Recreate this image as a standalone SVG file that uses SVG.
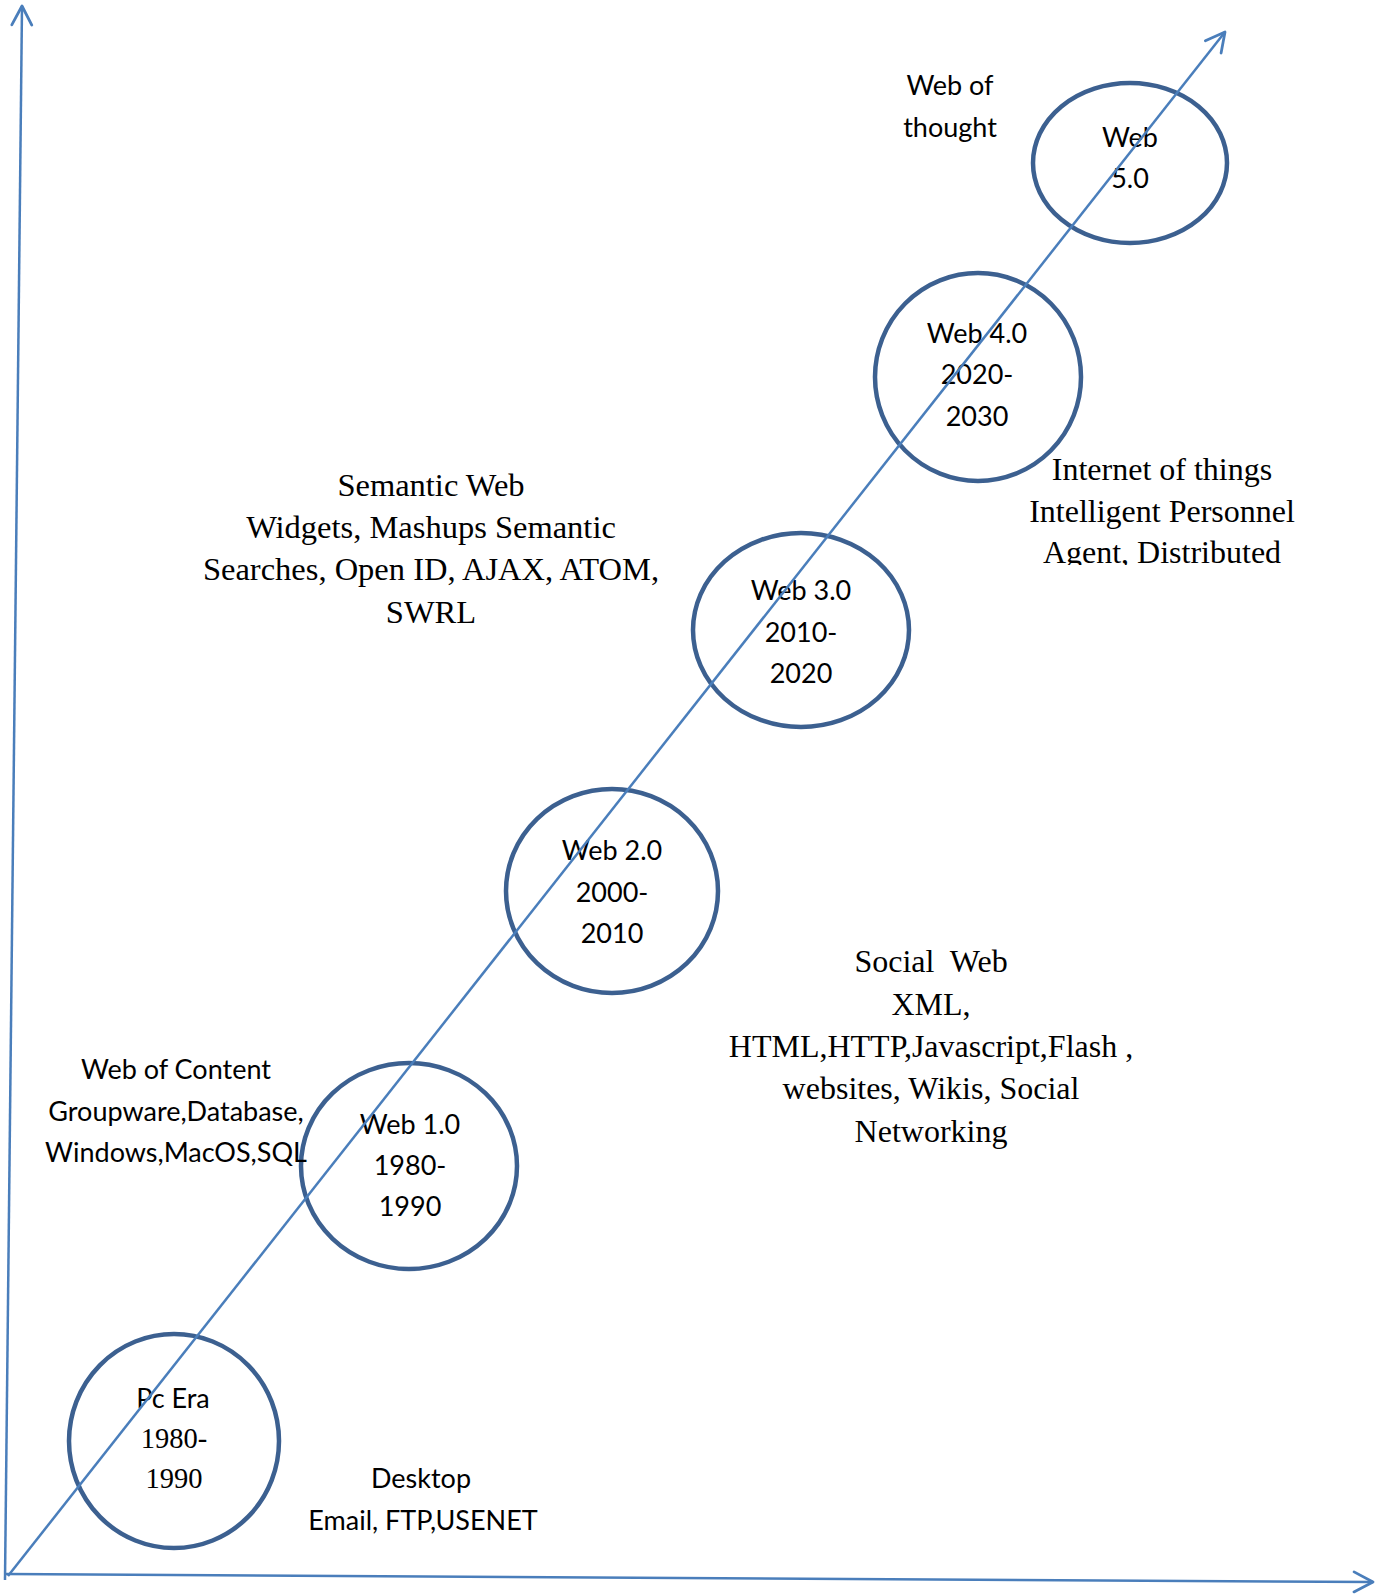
<svg xmlns="http://www.w3.org/2000/svg" width="1387" height="1594" viewBox="0 0 1387 1594">
<style>
.c{fill:none;stroke:#3C6090;stroke-width:4.5}
.s{font-family:Lato,"Liberation Sans",sans-serif;font-size:27px;fill:#000;text-anchor:middle}
.t{font-family:"Liberation Serif","Times New Roman",serif;font-size:32px;fill:#000;text-anchor:middle}
.ln{fill:none;stroke:#4A7EBB;stroke-width:2.5}
</style>
<defs>
<marker id="ah" viewBox="-24 -13 26 26" refX="0" refY="0" markerWidth="26" markerHeight="26" markerUnits="userSpaceOnUse" orient="auto" overflow="visible">
<path d="M-19,-10 L0,0 L-19,10" fill="none" stroke="#4A7EBB" stroke-width="2.8" stroke-linecap="round" stroke-linejoin="round"/>
</marker>
<clipPath id="clipIoT"><rect x="990" y="430" width="340" height="135"/></clipPath>
</defs>
<rect width="1387" height="1594" fill="#fff"/>

<g id="pc-era">
<ellipse class="c" cx="174" cy="1441" rx="105" ry="107"/>
<text class="s" x="173" y="1408">Pc Era</text>
<text class="t" x="174" y="1448" style="font-size:28.5px">1980-</text>
<text class="t" x="174" y="1488" style="font-size:28.5px">1990</text>
</g>

<g id="web1">
<ellipse class="c" cx="409" cy="1166" rx="108" ry="103"/>
<text class="s" x="410" y="1134">Web 1.0</text>
<text class="s" x="410" y="1175">1980-</text>
<text class="s" x="410" y="1216">1990</text>
</g>

<g id="web2">
<ellipse class="c" cx="612" cy="891" rx="106" ry="102"/>
<text class="s" x="612" y="860">Web 2.0</text>
<text class="s" x="612" y="902">2000-</text>
<text class="s" x="612" y="943">2010</text>
</g>

<g id="web3">
<ellipse class="c" cx="801" cy="630" rx="108" ry="97"/>
<text class="s" x="801" y="600">Web 3.0</text>
<text class="s" x="801" y="642">2010-</text>
<text class="s" x="801" y="683">2020</text>
</g>

<g id="web4">
<ellipse class="c" cx="978" cy="377" rx="103" ry="104"/>
<text class="s" x="977" y="343">Web 4.0</text>
<text class="s" x="977" y="384">2020-</text>
<text class="s" x="977" y="426">2030</text>
</g>

<g id="web5">
<ellipse class="c" cx="1130" cy="163" rx="97" ry="80"/>
<text class="s" x="1130" y="147">Web</text>
<text class="s" x="1130" y="188">5.0</text>
</g>

<g id="web-of-thought">
<text class="s" x="950" y="95">Web of</text>
<text class="s" x="950" y="137">thought</text>
</g>

<g id="iot-text" clip-path="url(#clipIoT)">
<text class="t" x="1162" y="480">Internet of things</text>
<text class="t" x="1162" y="522">Intelligent Personnel</text>
<text class="t" x="1162" y="563">Agent, Distributed</text>
</g>

<g id="semantic-text" style="font-size:32.5px">
<text class="t" x="431" y="496" style="font-size:32.5px">Semantic Web</text>
<text class="t" x="431" y="538" style="font-size:32.5px">Widgets, Mashups Semantic</text>
<text class="t" x="431" y="580" style="font-size:32.5px">Searches, Open ID, AJAX, ATOM,</text>
<text class="t" x="431" y="623" style="font-size:32.5px">SWRL</text>
</g>

<g id="social-text">
<text class="t" x="931" y="972" xml:space="preserve">Social  Web</text>
<text class="t" x="931" y="1015">XML,</text>
<text class="t" x="931" y="1057">HTML,HTTP,Javascript,Flash ,</text>
<text class="t" x="931" y="1099">websites, Wikis, Social</text>
<text class="t" x="931" y="1142">Networking</text>
</g>

<g id="content-text">
<text class="s" x="176" y="1079">Web of Content</text>
<text class="s" x="176" y="1121">Groupware,Database,</text>
<text class="s" x="176" y="1162">Windows,MacOS,SQL</text>
</g>

<g id="desktop-text">
<text class="s" x="421" y="1488">Desktop</text>
<text class="s" x="423" y="1530">Email, FTP,USENET</text>
</g>

<g id="connectors">
<line class="ln" x1="5" y1="1580" x2="22" y2="6" marker-end="url(#ah)"/>
<line class="ln" x1="6" y1="1574" x2="1373" y2="1582" marker-end="url(#ah)"/>
<line class="ln" x1="8" y1="1576" x2="1225" y2="32" stroke-width="2" marker-end="url(#ah)"/>
</g>
</svg>
